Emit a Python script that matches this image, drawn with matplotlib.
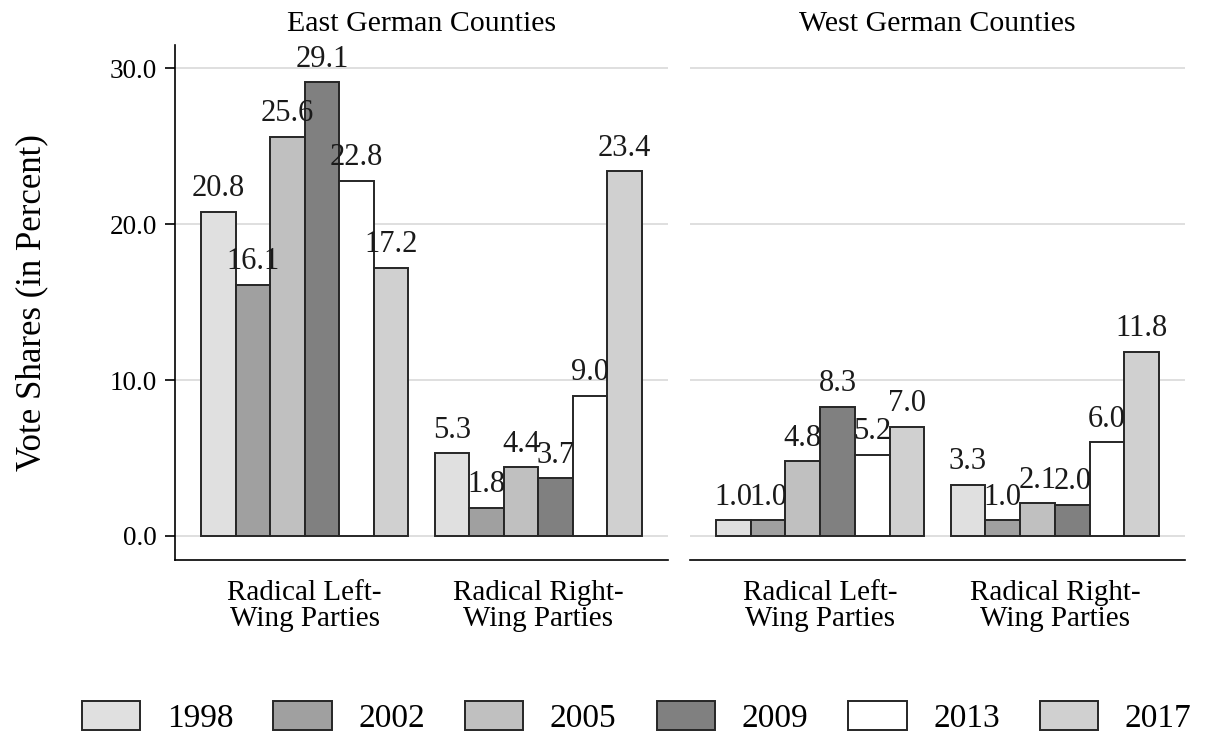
import numpy as np
import matplotlib.pyplot as plt
from matplotlib.patches import Patch

# data
years = ["1998", "2002", "2005", "2009", "2013", "2017"]
groups = ["Radical Left-\nWing Parties", "Radical Right-\nWing Parties"]
east_left = [20.8, 16.1, 25.6, 29.1, 22.8, 17.2]
east_right = [5.3, 1.8, 4.4, 3.7, 9.0, 23.4]
west_left = [1.0, 1.0, 4.8, 8.3, 5.2, 7.0]
west_right = [3.3, 1.0, 2.1, 2.0, 6.0, 11.8]
colors = ["#e0e0e0", "#a0a0a0", "#c0c0c0", "#808080", "#ffffff", "#d0d0d0"]

plt.rcParams["font.family"] = ["Liberation Serif", "DejaVu Serif"]
plt.rcParams["font.size"] = 20

fig = plt.figure(figsize=(12.08, 7.37), dpi=100)
ax1 = fig.add_axes([0.1449, 0.240, 0.408, 0.699])
ax2 = fig.add_axes([0.5712, 0.240, 0.4098, 0.699])

w = 0.148
x = np.arange(len(groups))


def panel(ax, left_vals, right_vals, title):
    for i, yr in enumerate(years):
        vals = [left_vals[i], right_vals[i]]
        pos = x + (i - 2.5) * w
        ax.bar(pos, vals, width=w, color=colors[i], edgecolor="#262626",
               linewidth=1.4, zorder=3)
        for p, v in zip(pos, vals):
            ax.text(p, v + 0.55, f"{v:.1f}", ha="center", va="bottom",
                    fontsize=22, color="#1a1a1a", zorder=4)
    ax.set_xlim(-0.555, 1.555)
    ax.set_ylim(-1.55, 31.5)
    ax.set_yticks([0, 10, 20, 30])
    ax.grid(axis="y", color="#dcdcdc", linewidth=1.3, zorder=0)
    ax.set_xticks(x)
    ax.set_xticklabels(groups, linespacing=1.0)
    ax.tick_params(axis="x", length=0, pad=14, labelsize=21)
    ax.set_title(title, fontsize=21.5, pad=10)
    for s in ["top", "right"]:
        ax.spines[s].set_visible(False)
    ax.spines["bottom"].set_linewidth(1.2)
    ax.spines["left"].set_linewidth(1.2)


panel(ax1, east_left, east_right, "East German Counties")
panel(ax2, west_left, west_right, "West German Counties")

ax1.set_yticklabels(["0.0", "10.0", "20.0", "30.0"])
ax1.tick_params(axis="y", length=7, width=1.2, pad=6, labelsize=19.5)
ax1.set_ylabel("Vote Shares (in Percent)", fontsize=25, labelpad=44)

ax2.spines["left"].set_visible(False)
ax2.tick_params(axis="y", length=0, labelleft=False)

handles = [Patch(facecolor=c, edgecolor="#262626", linewidth=1.4) for c in colors]
fig.legend(handles, years, loc="center", bbox_to_anchor=(0.527, 0.026), ncol=6,
           frameon=False, fontsize=24, handlelength=1.75, handleheight=0.95,
           columnspacing=1.2, handletextpad=0.8, borderpad=0.1, borderaxespad=0.1)

fig.savefig("out.png", dpi=100)
